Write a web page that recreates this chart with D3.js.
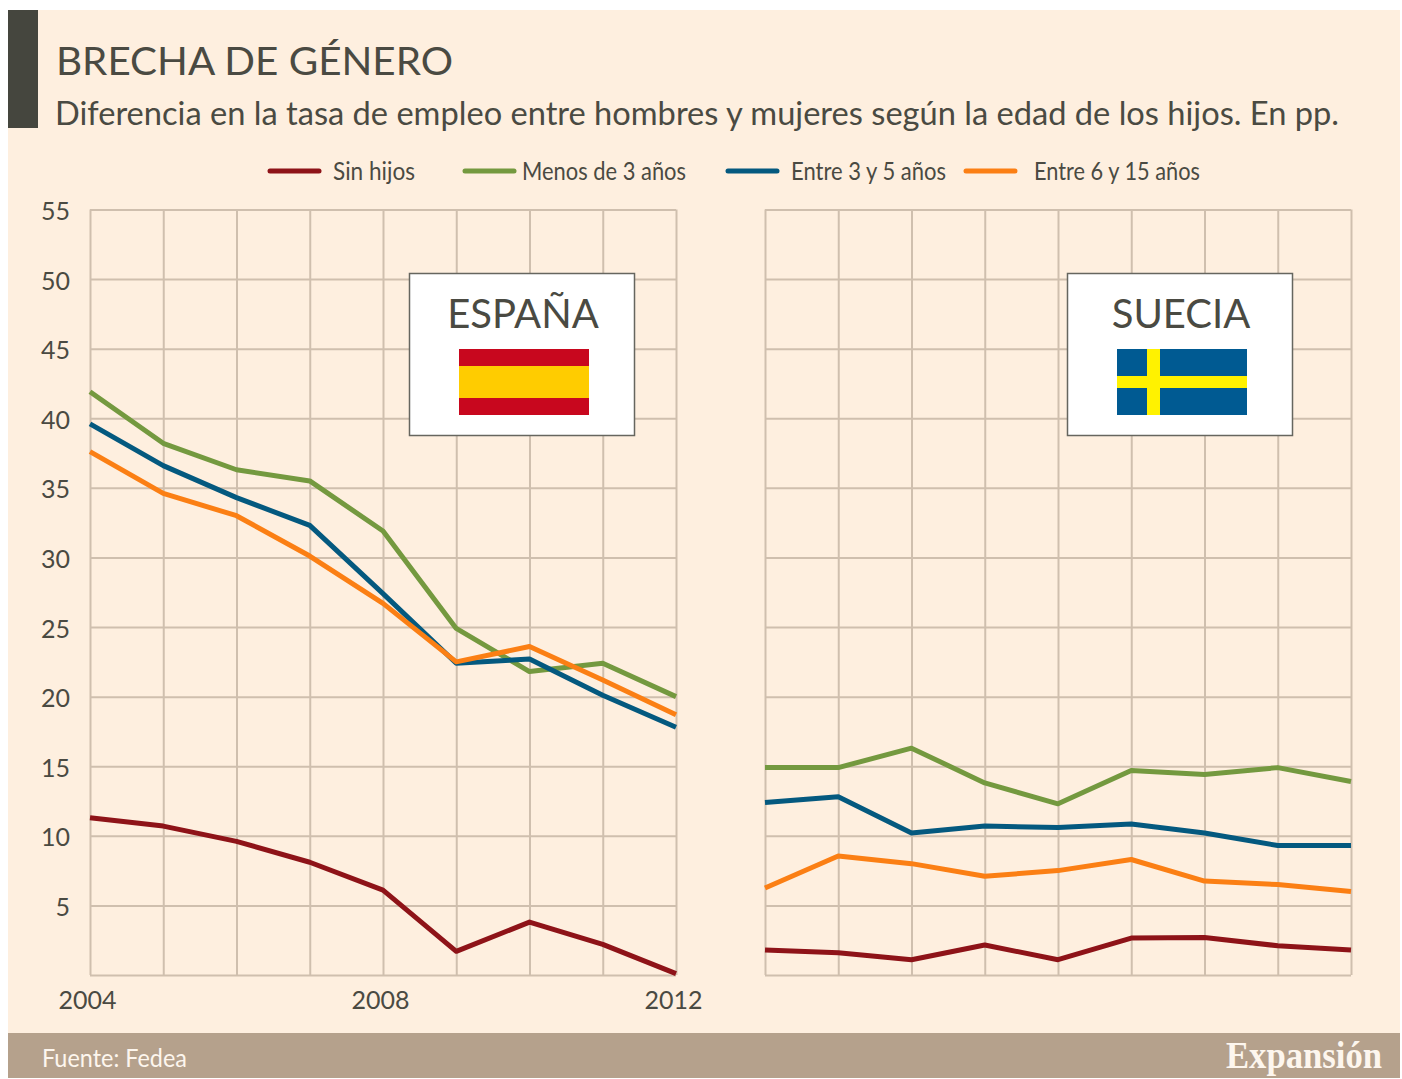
<!DOCTYPE html>
<html lang="es">
  <head>
    <meta charset="UTF-8" />
    <title>Brecha de género</title>
    <style>
      html, body { margin: 0; padding: 0; background: #fff; }
      svg { display: block; }
      text { font-family: Lato, "Open Sans", sans-serif; fill: #4a4a42; }
      .domain { display: none; }
      .grid line { stroke: #cfbfae; stroke-width: 2; }
      .axis-label text { font-size: 25px; }
    </style>
  </head>

  <body>
    <script src="https://cdn.jsdelivr.net/npm/d3@7"></script>
    <script>

      var years = [2004, 2005, 2006, 2007, 2008, 2009, 2010, 2011, 2012];
      var yearLabels = [2004, 2008, 2012];
      var yTicks = [0, 5, 10, 15, 20, 25, 30, 35, 40, 45, 50, 55];

      var seriesNames = ["Sin hijos", "Menos de 3 años", "Entre 3 y 5 años", "Entre 6 y 15 años"];
      var seriesColors = ["#8e1318", "#74993f", "#04597f", "#fb7f14"];

      var spainSinHijos = [11.3, 10.7, 9.6, 8.1, 6.1, 1.7, 3.8, 2.2, 0.1];
      var spainMenos3 = [41.9, 38.2, 36.3, 35.5, 31.9, 24.9, 21.8, 22.4, 20.0];
      var spain3a5 = [39.6, 36.6, 34.3, 32.3, 27.4, 22.4, 22.7, 20.1, 17.8];
      var spain6a15 = [37.6, 34.6, 33.0, 30.1, 26.7, 22.5, 23.6, 21.2, 18.7];

      var swedenSinHijos = [1.8, 1.6, 1.1, 2.15, 1.1, 2.65, 2.7, 2.1, 1.8];
      var swedenMenos3 = [14.9, 14.9, 16.3, 13.8, 12.3, 14.7, 14.4, 14.9, 13.9];
      var sweden3a5 = [12.4, 12.8, 10.2, 10.7, 10.6, 10.85, 10.2, 9.3, 9.3];
      var sweden6a15 = [6.25, 8.55, 8.0, 7.1, 7.5, 8.3, 6.75, 6.5, 6.0];

      var w = 1402;
      var h = 1079;
      var top_ = 209.5;
      var bottom = 975;

      var svg = d3.select("body").append("svg")
        .attr("width", w)
        .attr("height", h);

      // background, side block and footer
      svg.append("rect").attr("x", 8).attr("y", 10).attr("width", 1392).attr("height", 1068).attr("fill", "#feefdf");
      svg.append("rect").attr("x", 8).attr("y", 10).attr("width", 30).attr("height", 118).attr("fill", "#45463e");
      svg.append("rect").attr("x", 8).attr("y", 1033).attr("width", 1392).attr("height", 45).attr("fill", "#b5a18c");

      svg.append("text")
        .attr("x", 56).attr("y", 75)
        .attr("font-size", 38)
        .attr("textLength", 397)
        .attr("lengthAdjust", "spacingAndGlyphs")
        .text("BRECHA DE GÉNERO");
      svg.append("text")
        .attr("x", 55).attr("y", 125)
        .attr("font-size", 32)
        .attr("textLength", 1284)
        .attr("lengthAdjust", "spacingAndGlyphs")
        .text("Diferencia en la tasa de empleo entre hombres y mujeres según la edad de los hijos. En pp.");

      // legend
      var legendLineX = [270, 465, 728, 966];
      var legendTextX = [333, 522, 791, 1034];
      var legendTextW = [82, 164, 155, 166];
      var legend = svg.selectAll(".legend")
        .data(seriesNames)
        .enter()
        .append("g")
        .attr("class", "legend");
      legend.append("line")
        .attr("x1", function(d, i) { return legendLineX[i]; })
        .attr("x2", function(d, i) { return legendLineX[i] + 49; })
        .attr("y1", 171).attr("y2", 171)
        .attr("stroke", function(d, i) { return seriesColors[i]; })
        .attr("stroke-width", 5)
        .attr("stroke-linecap", "round");
      legend.append("text")
        .attr("x", function(d, i) { return legendTextX[i]; })
        .attr("y", 180)
        .attr("font-size", 25)
        .attr("textLength", function(d, i) { return legendTextW[i]; })
        .attr("lengthAdjust", "spacingAndGlyphs")
        .text(function(d) { return d; });

      var yScale = d3.scaleLinear().domain([0, 55]).range([bottom, top_]);

      function drawPanel(x0, x1, values, showLabels) {
        var xScale = d3.scaleLinear().domain([2004, 2012]).range([x0, x1]);

        svg.append("g")
          .attr("class", "grid")
          .attr("transform", "translate(0," + top_ + ")")
          .call(d3.axisBottom(xScale).tickValues(years).tickSize(bottom - top_).tickFormat(""));
        svg.append("g")
          .attr("class", "grid")
          .attr("transform", "translate(" + x0 + ",0)")
          .call(d3.axisRight(yScale).tickValues(yTicks).tickSize(x1 - x0).tickFormat(""));

        if (showLabels) {
          svg.append("g")
            .attr("class", "axis-label")
            .attr("transform", "translate(" + (x0 - 11) + ",0)")
            .call(d3.axisLeft(yScale).tickValues(yTicks.slice(1)).tickSize(0).tickPadding(9))
            .selectAll("text")
            .attr("fill", "#4a4a42")
            .attr("dy", "0.4em");
          svg.append("g")
            .attr("class", "axis-label")
            .attr("transform", "translate(-3," + (bottom + 15) + ")")
            .call(d3.axisBottom(xScale).tickValues(yearLabels).tickSize(0).tickPadding(0).tickFormat(d3.format("d")))
            .selectAll("text")
            .attr("dy", "0.75em");
        }

        var line = d3.line()
          .x(function(d, i) { return xScale(years[i]); })
          .y(function(d) { return yScale(d); });

        svg.selectAll(".s" + x0)
          .data(values)
          .enter()
          .append("path")
          .attr("class", "s" + x0)
          .attr("d", line)
          .attr("fill", "none")
          .attr("stroke", function(d, i) { return seriesColors[i]; })
          .attr("stroke-width", 5)
          .attr("stroke-linejoin", "round");
      }

      drawPanel(90, 676, [spainSinHijos, spainMenos3, spain3a5, spain6a15], true);
      drawPanel(765, 1351, [swedenSinHijos, swedenMenos3, sweden3a5, sweden6a15], false);

      // country boxes with flags
      function countryBox(x, name) {
        var g = svg.append("g").attr("transform", "translate(" + x + ",273)");
        g.append("rect")
          .attr("x", 0.5).attr("y", 0.5)
          .attr("width", 225).attr("height", 162)
          .attr("fill", "#fff")
          .attr("stroke", "#66665f")
          .attr("stroke-width", 1.5);
        g.append("text")
          .attr("x", 114).attr("y", 55)
          .attr("text-anchor", "middle")
          .attr("font-size", 40)
          .text(name);
        return g;
      }

      var es = countryBox(409, "ESPAÑA");
      es.append("rect").attr("x", 50).attr("y", 76).attr("width", 130).attr("height", 66).attr("fill", "#c8071e");
      es.append("rect").attr("x", 50).attr("y", 93).attr("width", 130).attr("height", 32).attr("fill", "#ffcc00");

      var se = countryBox(1067, "SUECIA");
      se.append("rect").attr("x", 50).attr("y", 76).attr("width", 130).attr("height", 66).attr("fill", "#005a92");
      se.append("rect").attr("x", 80).attr("y", 76).attr("width", 13).attr("height", 66).attr("fill", "#fff200");
      se.append("rect").attr("x", 50).attr("y", 103).attr("width", 130).attr("height", 12).attr("fill", "#fff200");

      // footer text
      svg.append("text")
        .attr("x", 42).attr("y", 1067)
        .attr("font-size", 25)
        .attr("textLength", 145)
        .attr("lengthAdjust", "spacingAndGlyphs")
        .style("fill", "#fdf6ee")
        .text("Fuente: Fedea");
      svg.append("text")
        .attr("x", 1226).attr("y", 1068)
        .attr("font-size", 37)
        .attr("font-weight", "bold")
        .attr("textLength", 156)
        .attr("lengthAdjust", "spacingAndGlyphs")
        .style("font-family", "'Liberation Serif', serif")
        .style("fill", "#fdf6ee")
        .text("Expansión");

    </script>
  </body>
</html>
